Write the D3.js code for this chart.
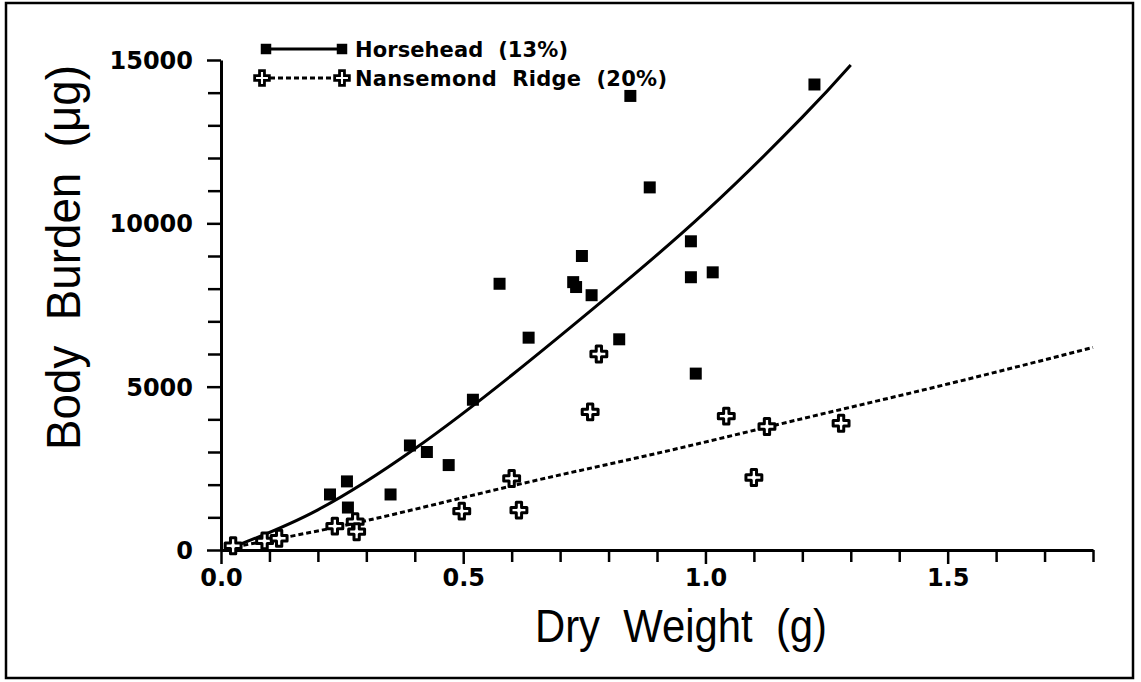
<!DOCTYPE html>
<html>
<head>
<meta charset="utf-8">
<script src="https://cdn.jsdelivr.net/npm/d3@7"></script>
<style>
  html, body { margin: 0; padding: 0; background: #fff; }
  svg { display: block; }
  text { white-space: pre; }
</style>
</head>
<body>
<svg id="chart" width="1141" height="682"></svg>
<script>
// ---- data ----
const horseX = [0.225, 0.26, 0.262, 0.35, 0.39, 0.425, 0.47, 0.52, 0.575, 0.635, 0.727, 0.733, 0.745, 0.765, 0.822, 0.845, 0.885, 0.97, 0.97, 0.98, 1.015, 1.225];
const horseY = [1700, 2100, 1300, 1700, 3200, 3000, 2600, 4600, 8150, 6500, 8200, 8050, 9000, 7800, 6450, 13900, 11100, 9450, 8350, 5400, 8500, 14250];

const nanseX = [0.025, 0.09, 0.12, 0.235, 0.277, 0.28, 0.497, 0.60, 0.615, 0.762, 0.78, 1.043, 1.10, 1.127, 1.28];
const nanseY = [130, 280, 360, 730, 870, 560, 1190, 2190, 1220, 4230, 6000, 4100, 2220, 3780, 3880];

// fitted curves
const horseFitX = [0.03, 0.2, 0.4, 0.6, 0.8, 1.0, 1.2, 1.30];
const horseFitY = [120, 1230, 3100, 5350, 7780, 10350, 13250, 14850];
const nanseFitX = [0.03, 0.3, 0.6, 0.9, 1.2, 1.5, 1.8];
const nanseFitY = [100, 900, 1960, 2960, 4020, 5080, 6200];

const xMajor = [0, 0.5, 1.0, 1.5];
const xMajorLabels = ["0.0", "0.5", "1.0", "1.5"];
const xMinor = [0.1, 0.2, 0.3, 0.4, 0.6, 0.7, 0.8, 0.9, 1.1, 1.2, 1.3, 1.4, 1.6, 1.7, 1.8];
const yMajor = [0, 5000, 10000, 15000];
const yMajorLabels = ["0", "5000", "10000", "15000"];
const yMinor = [1000, 2000, 3000, 4000, 6000, 7000, 8000, 9000, 11000, 12000, 13000, 14000];

const legendLabels = ["Horsehead  (13%)", "Nansemond  Ridge  (20%)"];
const xTitle = "Dry  Weight  (g)";
const yTitle = "Body  Burden  (\u03BCg)";

// ---- drawing ----
const svg = d3.select("#chart");
const x = d3.scaleLinear().domain([0, 1.8]).range([221, 1093]);
const y = d3.scaleLinear().domain([0, 15000]).range([550, 60]);

// outer frame
svg.append("rect").attr("x", 6).attr("y", 3).attr("width", 1127).attr("height", 675)
  .attr("fill", "none").attr("stroke", "#000").attr("stroke-width", 2.5);

const tickFont = "'DejaVu Sans', sans-serif";
const titleFont = "'Liberation Sans', Arial, sans-serif";

// x axis
const xAxisG = svg.append("g").attr("transform", `translate(0,${y(0)})`);
xAxisG.call(d3.axisBottom(x).tickValues(xMajor).tickSize(14).tickSizeOuter(0)
  .tickFormat((d, i) => xMajorLabels[i]));
const xMinorG = svg.append("g").attr("transform", `translate(0,${y(0)})`);
xMinorG.call(d3.axisBottom(x).tickValues(xMinor).tickSize(12).tickSizeOuter(0).tickFormat(""));
xMinorG.select(".domain").remove();

// y axis
const yAxisG = svg.append("g").attr("transform", `translate(${x(0)},0)`);
yAxisG.call(d3.axisLeft(y).tickValues(yMajor).tickSize(14).tickSizeOuter(0)
  .tickFormat((d, i) => yMajorLabels[i]));
const yMinorG = svg.append("g").attr("transform", `translate(${x(0)},0)`);
yMinorG.call(d3.axisLeft(y).tickValues(yMinor).tickSize(13).tickSizeOuter(0).tickFormat(""));
yMinorG.select(".domain").remove();

svg.selectAll(".domain").attr("stroke", "#000").attr("stroke-width", 3);
svg.selectAll(".tick line").attr("stroke", "#000").attr("stroke-width", 2.5);
xAxisG.selectAll(".tick text").attr("font-family", tickFont).attr("font-weight", "bold")
  .attr("font-size", 24).attr("fill", "#000").attr("dy", "0.9em").attr("y", 14);
yAxisG.selectAll(".tick text").attr("font-family", tickFont).attr("font-weight", "bold")
  .attr("font-size", 24).attr("fill", "#000").attr("x", -28).attr("dy", "0.35em");

// axis titles
svg.append("text").attr("x", 535).attr("y", 642)
  .attr("text-anchor", "start").attr("font-family", titleFont)
  .attr("font-size", 46).attr("fill", "#000")
  .attr("textLength", 292).attr("lengthAdjust", "spacingAndGlyphs").text(xTitle);
svg.append("text").attr("transform", "translate(80,450) rotate(-90)")
  .attr("text-anchor", "start").attr("font-family", titleFont)
  .attr("font-size", 48).attr("fill", "#000")
  .attr("textLength", 385).attr("lengthAdjust", "spacingAndGlyphs").text(yTitle);

// fitted curves
const horseFit = horseFitX.map((d, i) => [d, horseFitY[i]]);
const nanseFit = nanseFitX.map((d, i) => [d, nanseFitY[i]]);
const line = d3.line().x(d => x(d[0])).y(d => y(d[1])).curve(d3.curveNatural);
svg.append("path").attr("d", line(horseFit)).attr("fill", "none")
  .attr("stroke", "#000").attr("stroke-width", 3);
svg.append("path").attr("d", line(nanseFit)).attr("fill", "none")
  .attr("stroke", "#000").attr("stroke-width", 3).attr("stroke-dasharray", "5,3");

// markers
const square = d3.symbol().type(d3.symbolSquare).size(144);
const cross = d3.symbol().type(d3.symbolCross).size(140);
const horse = horseX.map((d, i) => [d, horseY[i]]);
const nanse = nanseX.map((d, i) => [d, nanseY[i]]);
svg.append("g").selectAll("path").data(nanse).join("path")
  .attr("d", cross).attr("transform", d => `translate(${x(d[0])},${y(d[1])})`)
  .attr("fill", "#fff").attr("stroke", "#000").attr("stroke-width", 3)
  .attr("stroke-linejoin", "round");
svg.append("g").selectAll("path").data(horse).join("path")
  .attr("d", square).attr("transform", d => `translate(${x(d[0])},${y(d[1])})`)
  .attr("fill", "#000");

// legend
const lg = svg.append("g");
lg.append("line").attr("x1", 266).attr("x2", 342).attr("y1", 49).attr("y2", 49)
  .attr("stroke", "#000").attr("stroke-width", 3);
lg.append("path").attr("d", d3.symbol().type(d3.symbolSquare).size(110)).attr("transform", "translate(266,49)");
lg.append("path").attr("d", d3.symbol().type(d3.symbolSquare).size(110)).attr("transform", "translate(342,49)");
lg.append("line").attr("x1", 262).attr("x2", 342).attr("y1", 78).attr("y2", 78)
  .attr("stroke", "#000").attr("stroke-width", 3).attr("stroke-dasharray", "5,3");
[262, 342].forEach(cx => lg.append("path").attr("d", d3.symbol().type(d3.symbolCross).size(120))
  .attr("transform", `translate(${cx},78)`).attr("fill", "#fff").attr("stroke", "#000").attr("stroke-width", 2.8));
lg.append("text").attr("x", 355).attr("y", 57).attr("font-family", tickFont).attr("font-weight", "bold")
  .attr("font-size", 21).attr("textLength", 213).attr("lengthAdjust", "spacing").text(legendLabels[0]);
lg.append("text").attr("x", 355).attr("y", 86).attr("font-family", tickFont).attr("font-weight", "bold")
  .attr("font-size", 21).attr("textLength", 312).attr("lengthAdjust", "spacing").text(legendLabels[1]);
</script>
</body>
</html>
